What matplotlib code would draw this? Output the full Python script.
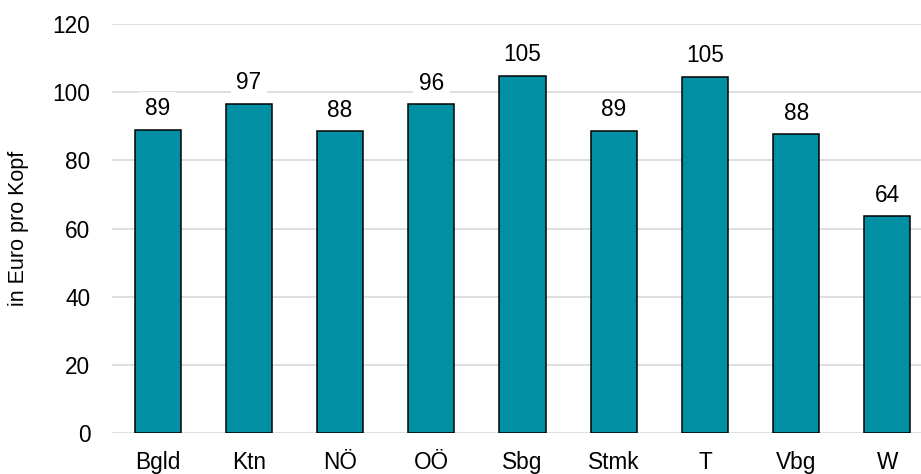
import matplotlib
matplotlib.use("Agg")
import matplotlib.pyplot as plt

plt.rcParams['font.family'] = ['Liberation Sans', 'DejaVu Sans']

# Ausgaben je Bundesland
categories = ["Bgld", "Ktn", "NÖ", "OÖ", "Sbg", "Stmk", "T", "Vbg", "W"]
values = [88.9, 96.6, 88.5, 96.5, 104.9, 88.7, 104.6, 87.7, 63.6]
yticks = [0, 20, 40, 60, 80, 100, 120]

bar_color = "#008FA3"
grid_color = "#D9D9D9"
fs = 16.3

fig = plt.figure(figsize=(9.21, 4.74), dpi=100)
ax = fig.add_axes([112 / 921, 1 - 433.3 / 474, (921 - 112) / 921, (433.3 - 24) / 474])

x = list(range(len(categories)))
ax.bar(x, values, width=0.505, color=bar_color, edgecolor="black", linewidth=1.1, zorder=3)

for xi, v in zip(x, values):
    ax.annotate(f"{v:.0f}", (xi, v), xytext=(0, 10.5), textcoords="offset points",
                ha="center", va="baseline", fontsize=fs, color="black", zorder=4,
                bbox=dict(boxstyle="square,pad=0.25", fc="white", ec="none"))

ax.set_ylim(0, 120)
ax.set_xlim(-0.5, 8.5 - 12 / 91.2)
ax.set_yticks(yticks)
ax.set_xticks(x)
ax.set_xticklabels(categories)
ax.tick_params(axis="both", length=0, labelsize=fs, colors="black")
ax.tick_params(axis="y", pad=15.5)
ax.tick_params(axis="x", pad=12.5)

ax.grid(axis="y", color=grid_color, linewidth=1.2, zorder=0)
for s in ax.spines.values():
    s.set_visible(False)
ax.set_axisbelow(True)

ax.set_ylabel("in Euro pro Kopf", fontsize=15.5)
ax.yaxis.set_label_coords(-(112 - 29) / 809, 0.5)

fig.savefig("out.png", dpi=100)
